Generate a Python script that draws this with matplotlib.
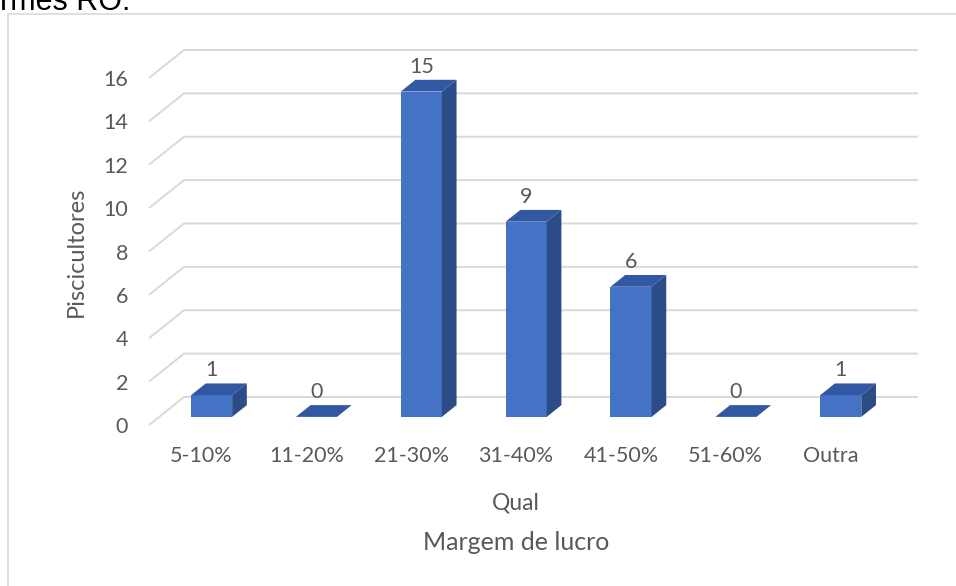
import numpy as np
import matplotlib
matplotlib.use("Agg")
import matplotlib.pyplot as plt
from matplotlib.patches import Polygon
from matplotlib.lines import Line2D

categorias = ["5-10%", "11-20%", "21-30%", "31-40%", "41-50%", "51-60%", "Outra"]
piscicultores = [1, 0, 15, 9, 6, 0, 1]
yticks = [0, 2, 4, 6, 8, 10, 12, 14, 16]

plt.rcParams['font.family'] = ['Lato', 'DejaVu Sans']
cinza = '#595959'
grade = '#D9D9D9'
frente = '#4472C4'
topo = '#3358A3'
lado = '#2C4C88'

fig = plt.figure(figsize=(9.56, 5.86), dpi=100)

# moldura do grafico (so esquerda e topo aparecem)
fig.add_artist(Line2D([8 / 956, 8 / 956, 1], [0, 1 - 14 / 586, 1 - 14 / 586],
                      transform=fig.transFigure, color=grade, lw=1.2))
fig.text(0.0, 1 - 10 / 586, "rmes RO.", family='Liberation Sans', fontsize=22,
         color='black', ha='left', va='baseline')

ax = fig.add_axes([149 / 956, 161 / 586, 734 / 956, 347 / 586])
ax.set_xlim(-0.5, len(categorias) - 0.5)
ax.set_ylim(0, 16)
for s in ax.spines.values():
    s.set_visible(False)

# deslocamento da profundidade (pseudo 3D) em unidades de dados
DX = 35 / 104.86
DY = 28 / 21.69
d0, d1 = 0.29, 0.71
hw = 0.196

# parede do fundo: linhas de grade e diagonais do piso/lado
for v in yticks:
    ax.plot([-0.5, -0.5 + DX, len(categorias) - 0.5 + DX], [v, v + DY, v + DY],
            color=grade, lw=1.4, clip_on=False, zorder=1, solid_capstyle='butt')

x = np.arange(len(categorias))
vals = np.array(piscicultores, dtype=float)

ax.bar(x + d0 * DX, vals, width=2 * hw, bottom=d0 * DY, color=frente,
       zorder=3, clip_on=False)
for xi, v in zip(x, vals):
    xl, xr = xi - hw, xi + hw
    top = [(xl + d0 * DX, d0 * DY + v), (xr + d0 * DX, d0 * DY + v),
           (xr + d1 * DX, d1 * DY + v), (xl + d1 * DX, d1 * DY + v)]
    ax.add_patch(Polygon(top, closed=True, facecolor=topo, edgecolor='none',
                         zorder=3, clip_on=False))
    if v > 0:
        side = [(xr + d0 * DX, d0 * DY), (xr + d1 * DX, d1 * DY),
                (xr + d1 * DX, d1 * DY + v), (xr + d0 * DX, d0 * DY + v)]
        ax.add_patch(Polygon(side, closed=True, facecolor=lado, edgecolor='none',
                             zorder=3, clip_on=False))
    ax.text(xi + d0 * DX, v + 27 / 21.69, f"{int(v)}", ha='center', va='baseline',
            fontsize=15.5, color=cinza, zorder=4)

ax.set_yticks(yticks)
ax.set_yticklabels([str(t) for t in yticks])
ax.set_xticks(x)
ax.set_xticklabels(categorias)
ax.tick_params(axis='both', length=0, labelsize=15.5, labelcolor=cinza)
ax.tick_params(axis='y', pad=15)
ax.tick_params(axis='x', pad=15)

ax.set_ylabel("Piscicultores", fontsize=17, color=cinza, labelpad=12)
ax.text(0.5, -0.225, "Qual", transform=ax.transAxes, ha='center', va='center',
        fontsize=16.5, color=cinza)
ax.text(0.5, -0.34, "Margem de lucro", transform=ax.transAxes, ha='center',
        va='center', fontsize=18, color=cinza)

fig.savefig("out.png", dpi=100)
